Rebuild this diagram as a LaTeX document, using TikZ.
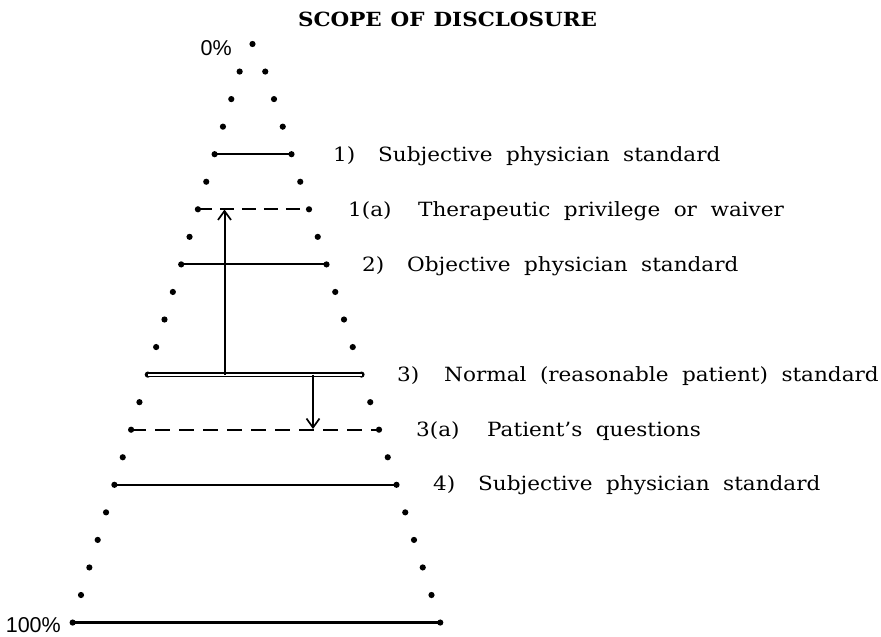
\documentclass[tikz,border=0pt]{standalone}
\usepackage{fontspec}
\setmainfont{DejaVu Serif}[FakeStretch=1.1]
\newfontfamily\pctfont{Liberation Sans}
\usetikzlibrary{arrows.meta}
\newcommand{\lblfont}{\fontsize{19.6}{21}\selectfont\spaceskip=13.5pt\relax}
\newcommand{\ttlfont}{\fontsize{19.5}{21}\selectfont\bfseries\spaceskip=9pt\relax}
\begin{document}
\begin{tikzpicture}[x=1pt,y=-1pt,
  dotmark/.style={circle,fill=black,inner sep=0pt,minimum size=6.2pt},
  rung/.style={line width=1.9pt},
  dashrung/.style={line width=1.9pt,dash pattern=on 14pt off 8pt},
  dblrung/.style={line width=1.7pt,double=white,double distance=2.2pt},
  lbl/.style={anchor=base west,inner sep=0pt,font=\lblfont},
  pct/.style={anchor=base east,inner sep=0pt,font=\pctfont\fontsize{21.5}{23}\selectfont},
  arr/.style={line width=2pt,-{Straight Barb[length=9pt,width=13pt,line width=1.7pt]}}]
\useasboundingbox (0,0) rectangle (881,637);
% rows of dots
\coordinate (A) at (252.5,44);
\node[dotmark] (dA) at (A) {};
\foreach \k in {1,...,21}{
  \coordinate (L\k) at ({248-8.35*\k},{44+27.55*\k});
  \coordinate (R\k) at ({256.5+8.75*\k},{44+27.55*\k});
  \node[dotmark] (dL\k) at (L\k) {};
  \node[dotmark] (dR\k) at (R\k) {};
}
% title and percentages
\node[anchor=base,inner sep=0pt,font=\ttlfont] (title) at (447.5,26) {SCOPE OF DISCLOSURE};
\node[pct] (p0) at (232,55) {0\%};
\node[pct] (p100) at (61,632) {100\%};
% standards
\draw[rung] (L4) -- (R4);
\draw[dashrung] (L6) -- (R6);
\draw[rung] (L8) -- (R8);
\draw[dblrung] (L12) -- (R12);
\draw[dashrung,dash pattern=on 15pt off 9pt] (L14) -- (R14);
\draw[rung] (L16) -- (R16);
\draw[line width=2.3pt] (L21) -- (R21);
% arrows
\coordinate (u0) at (224.5,374.5);
\coordinate (u1) at (224.5,209.5);
\coordinate (d0) at (313,374.5);
\coordinate (d1) at (313,429);
\draw[arr] (u0) -- (u1);
\draw[arr] (d0) -- (d1);
% labels
\node[lbl] (t1) at (333,161) {\makebox[45pt][l]{1)}Subjective physician standard};
\node[lbl] (t1a) at (348,216) {\makebox[70pt][l]{1(a)}Therapeutic privilege or waiver};
\node[lbl] (t2) at (362,271) {\makebox[45pt][l]{2)}Objective physician standard};
\node[lbl] (t3) at (397,381) {\makebox[47pt][l]{3)}Normal (reasonable patient) standard};
\node[lbl] (t3a) at (416,436) {\makebox[71pt][l]{3(a)}Patient’s questions};
\node[lbl] (t4) at (433,490) {\makebox[45pt][l]{4)}Subjective physician standard};
\end{tikzpicture}
\end{document}
